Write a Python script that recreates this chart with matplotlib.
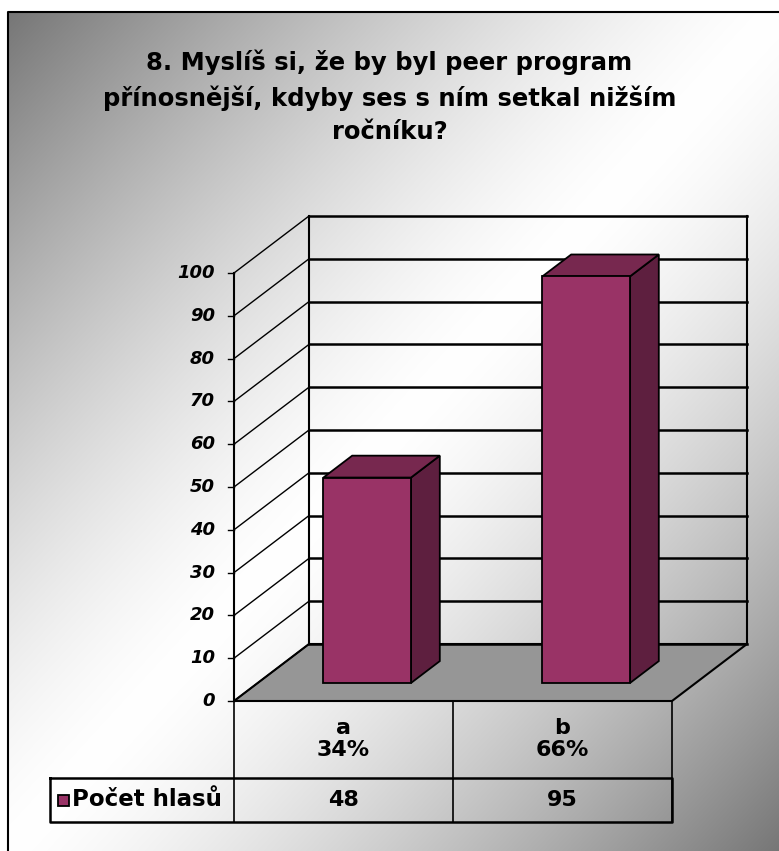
import numpy as np
import matplotlib
matplotlib.use("Agg")
import matplotlib.pyplot as plt
from matplotlib.patches import Polygon, Rectangle

plt.rcParams['font.family'] = ['DejaVu Sans']

title = "8. Myslíš si, že by byl peer program\npřínosnější, kdyby ses s ním setkal nižším\nročníku?"
categories = ["a", "b"]
shares = ["34%", "66%"]
votes = [48, 95]
series_name = "Počet hlasů"
yticks = list(range(0, 101, 10))

W, H = 779, 851
fig = plt.figure(figsize=(W / 100, H / 100), dpi=100)

# background: white outside, diagonal grey-white-grey gradient inside the frame
bg = fig.add_axes([0, 0, 1, 1])
bg.set_xlim(0, W)
bg.set_ylim(H, 0)
bg.axis("off")
yy, xx = np.mgrid[0:H, 0:W]
t = ((xx - 8) / 771 + (yy - 12) / 839) / 2
g = 1 - (np.abs(t - 0.5) * 2) ** 1.4 * (1 - 118 / 255)
g = np.clip(g, 0, 1)
img = np.dstack([g, g, g])
img[:12, :] = 1
img[:, :8] = 1
bg.imshow(img, extent=(0, W, H, 0), interpolation="bilinear", zorder=0)
bg.plot([8, 8, W + 5], [H + 5, 12, 12], color="black", lw=1.5, zorder=1)

# chart axes in category / value units, front floor edge at y=0
px_x = 219.0   # pixels per category
px_y = 4.28    # pixels per value unit
x0_px, y0_px = 234, 701
ax = fig.add_axes([0, 0, 1, 1])
ax.set_xlim(-x0_px / px_x, (W - x0_px) / px_x)
ax.set_ylim(-(H - y0_px) / px_y, y0_px / px_y)
ax.axis("off")
ax.patch.set_alpha(0)

n = len(categories)
ymax = yticks[-1]
DX, DY = 75 / px_x, 57 / px_y    # depth of the 3-D box

# floor
ax.add_patch(Polygon([(0, 0), (n, 0), (n + DX, DY), (DX, DY)], closed=True,
                     facecolor="#969696", edgecolor="black", lw=1.5, zorder=2))

# back wall and side wall gridlines, value ticks
for v in yticks:
    ax.plot([DX, n + DX], [v + DY, v + DY], color="black", lw=1.8, zorder=2)
    ax.plot([0, DX], [v, v + DY], color="black", lw=1.0, zorder=2)
    ax.plot([-6 / px_x, 0], [v, v], color="black", lw=1.0, zorder=2)
    ax.text(-19 / px_x, v, str(v), ha="right", va="center", fontsize=13,
            fontweight="bold", fontstyle="italic", zorder=5)
ax.plot([DX, DX], [DY, ymax + DY], color="black", lw=1.5, zorder=2)
ax.plot([n + DX, n + DX], [DY, ymax + DY], color="black", lw=1.5, zorder=2)
ax.plot([0, 0], [0, ymax], color="black", lw=1.5, zorder=2)

# 3-D bars
f0, f1 = 0.316, 0.70
bw = 0.40
front_c, side_c, top_c = "#993366", "#5e1f3f", "#77284f"
for i, v in enumerate(votes):
    xl = i + 0.5 - bw / 2 + f0 * DX
    xr = xl + bw
    yb = f0 * DY
    ddx, ddy = (f1 - f0) * DX, (f1 - f0) * DY
    ax.add_patch(Polygon([(xr, yb), (xr + ddx, yb + ddy), (xr + ddx, yb + ddy + v), (xr, yb + v)],
                         closed=True, facecolor=side_c, edgecolor="black", lw=1.3, zorder=3))
    ax.add_patch(Polygon([(xl, yb + v), (xr, yb + v), (xr + ddx, yb + v + ddy), (xl + ddx, yb + v + ddy)],
                         closed=True, facecolor=top_c, edgecolor="black", lw=1.3, zorder=3))
    ax.add_patch(Rectangle((xl, yb), bw, v, facecolor=front_c, edgecolor="black",
                           lw=1.3, zorder=4))

# data table below the floor
r1 = -77 / px_y
r2 = -121 / px_y
left = -184 / px_x
for xv in range(n + 1):
    ax.plot([xv, xv], [0, r2], color="black", lw=1.2, zorder=2)
ax.plot([left, n, n, left, left], [r1, r1, r2, r2, r1], color="black", lw=1.8, zorder=2)
for i, (c, s, v) in enumerate(zip(categories, shares, votes)):
    ax.text(i + 0.5, r1 * 0.35, c, ha="center", va="center", fontsize=16,
            fontweight="bold")
    ax.text(i + 0.5, r1 * 0.64, s, ha="center", va="center", fontsize=16,
            fontweight="bold")
    ax.text(i + 0.5, (r1 + r2) / 2, str(v), ha="center", va="center", fontsize=16,
            fontweight="bold")
ax.add_patch(Rectangle((left + 8 / px_x, (r1 + r2) / 2 - 5.5 / px_y), 11 / px_x, 11 / px_y,
                       facecolor=front_c, edgecolor="black", lw=1.3, zorder=3))
ax.text(left + 22 / px_x, (r1 + r2) / 2, series_name, ha="left", va="center",
        fontsize=16.5, fontweight="bold")

fig.text(0.5, 1 - 97 / H, title, ha="center", va="center", fontsize=17.5,
         fontweight="bold", linespacing=1.5)

fig.savefig("out.png", dpi=100)
